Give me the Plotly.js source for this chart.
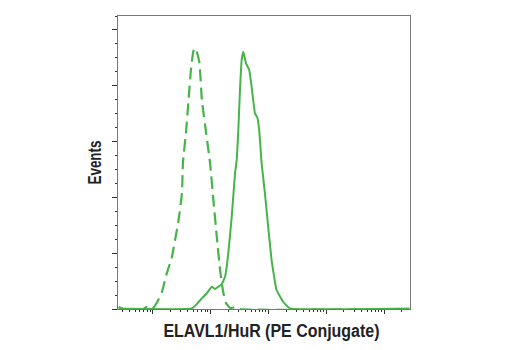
<!DOCTYPE html>
<html>
<head>
<meta charset="utf-8">
<script src="https://cdn.plot.ly/plotly-3.0.1.min.js"></script>
<style>html,body{margin:0;padding:0;background:#fff;}#chart{width:520px;height:350px;}</style>
</head>
<body>
<div id="chart"></div>
<script>
// Control (isotype) histogram - dashed
const controlX = [2.58, 3.14, 6.92, 7.80, 8.77, 9.88, 12.0, 14.5, 17.2, 21.5, 28.0, 32.0, 33.3, 37.9, 41.6, 45.7, 50.0, 52.7, 56.4, 64.2, 70.6, 83.7, 97.8, 111.6, 127.8, 145.6, 166, 184.6, 216, 282, 321, 268000];
const controlY = [1.8, 0, 0, 1.8, 0, 0, 6.3, 15.5, 30.5, 46.9, 79.7, 103.9, 130.8, 160.4, 187.3, 214.1, 230.3, 233.6, 232.1, 220.4, 187.3, 157.7, 130.8, 97.7, 64.8, 34.9, 14.3, 5.4, 0.9, 1.8, 0, 0];
// ELAVL1/HuR stained histogram - solid
const stainX = [2.58, 47.5, 57.9, 68.7, 83.7, 105, 119.5, 134.5, 155.7, 177.4, 202, 231.3, 263.6, 282, 300.5, 321, 343.6, 366.2, 407.6, 464, 510, 582, 637, 689, 758, 864, 984, 1126, 1372, 1782, 2323, 268000];
const stainY = [0.4, 0.4, 4.5, 9.0, 13.4, 20.0, 17.9, 19.7, 22.4, 28.9, 50.2, 82.7, 121.6, 133.5, 160.4, 196.2, 223.1, 230.5, 220.1, 214.1, 199.2, 175.3, 171.8, 160.4, 130.8, 103.9, 73.7, 43.9, 17.0, 6.5, 0.6, 0.4];
// Axis ticks
const xMajor = [10, 100, 1000, 10000, 100000];
const xMinor = [];
[1, 10, 100, 1000, 10000, 100000].forEach(d => { for (let k = 2; k <= 9; k++) xMinor.push(d * k); });
const xTitle = "ELAVL1/HuR (PE Conjugate)";
const yTitle = "Events";

const green = "#45b449";
const traces = [
  {x: controlX, y: controlY, type: "scatter", mode: "lines", line: {color: green, width: 2.2, dash: "12px,6px", shape: "spline", smoothing: 0.4}, hoverinfo: "skip"},
  {x: stainX, y: stainY, type: "scatter", mode: "lines", line: {color: green, width: 2, shape: "spline", smoothing: 0.3}, hoverinfo: "skip"}
];
const fontFam = "'Liberation Sans', Arial, sans-serif";
const titleFont = {family: fontFam, size: 17.5, color: "#222", weight: "bold"};
const layout = {
  width: 520, height: 350,
  margin: {l: 117.5, r: 109.5, t: 16, b: 41},
  paper_bgcolor: "#fff", plot_bgcolor: "#fff",
  showlegend: false,
  xaxis: {
    type: "log", range: [0.402, 5.44], tickmode: "array", tickvals: xMajor,
    showticklabels: false, ticks: "outside", ticklen: 4, tickwidth: 1, tickcolor: "#333",
    minor: {tickmode: "array", tickvals: xMinor, ticks: "outside", ticklen: 2, tickwidth: 1, tickcolor: "#333", showgrid: false},
    showgrid: false, zeroline: false, showline: true, linecolor: "#777", linewidth: 1, mirror: true,
    fixedrange: true
  },
  yaxis: {
    range: [0, 262.5], tickmode: "linear", tick0: 0, dtick: 50,
    showticklabels: false, ticks: "outside", ticklen: 5, tickwidth: 1, tickcolor: "#333",
    minor: {tickmode: "linear", tick0: 0, dtick: 12.5, ticks: "outside", ticklen: 2.5, tickwidth: 1, tickcolor: "#333", showgrid: false},
    showgrid: false, zeroline: false, showline: true, linecolor: "#777", linewidth: 1, mirror: true,
    title: {text: yTitle, font: titleFont, standoff: 5},
    fixedrange: true
  },
  annotations: [
    {text: xTitle, xref: "paper", yref: "paper", x: 0.527, y: 0, xanchor: "center", yanchor: "middle", yshift: -21.5, showarrow: false, font: titleFont}
  ]
};
Plotly.newPlot("chart", traces, layout, {displayModeBar: false, staticPlot: true}).then(gd => {
  // condensed bold lettering like the original
  const xt = gd.querySelector("text.annotation-text");
  if (xt) { xt.setAttribute("textLength", "216"); xt.setAttribute("lengthAdjust", "spacingAndGlyphs"); }
  const yt = gd.querySelector("text.ytitle");
  if (yt) { yt.setAttribute("textLength", "44"); yt.setAttribute("lengthAdjust", "spacingAndGlyphs"); }
});
</script>
</body>
</html>
